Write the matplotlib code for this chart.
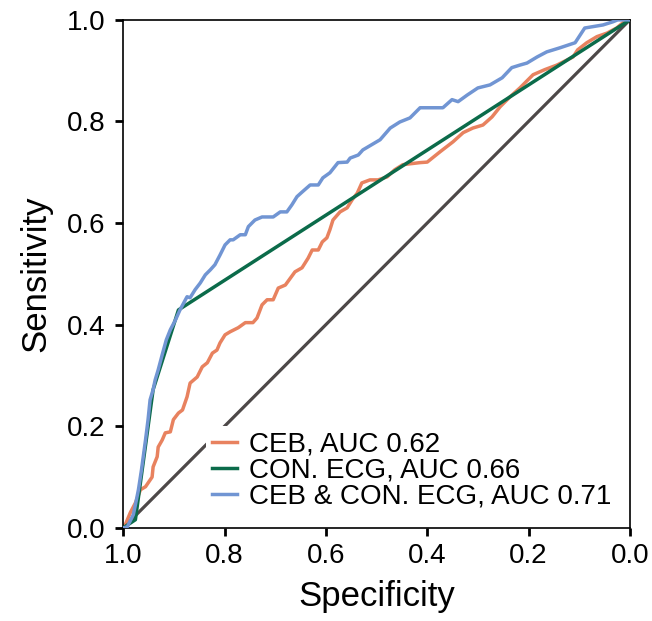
import matplotlib
matplotlib.use("Agg")
import matplotlib.pyplot as plt

plt.rcParams['font.family'] = ['Liberation Sans', 'DejaVu Sans']

# ROC points (specificity, sensitivity)
ceb_spec = [1.0, 0.996, 0.986, 0.976, 0.966, 0.956, 0.943, 0.941, 0.933, 0.931, 0.923, 0.917,
            0.907, 0.901, 0.891, 0.883, 0.874, 0.868, 0.854, 0.844, 0.834, 0.824, 0.815, 0.809,
            0.799, 0.789, 0.773, 0.759, 0.744, 0.736, 0.726, 0.716, 0.704, 0.694, 0.680, 0.661,
            0.647, 0.635, 0.627, 0.615, 0.607, 0.598, 0.592, 0.586, 0.572, 0.558, 0.548, 0.538,
            0.529, 0.513, 0.497, 0.479, 0.464, 0.448, 0.414, 0.400, 0.375, 0.349, 0.329, 0.310,
            0.290, 0.272, 0.256, 0.237, 0.217, 0.191, 0.168, 0.144, 0.124, 0.112, 0.103, 0.085,
            0.065, 0.045, 0.026, 0.014, 0.0]
ceb_sens = [0.0, 0.006, 0.030, 0.049, 0.075, 0.081, 0.100, 0.120, 0.140, 0.159, 0.173, 0.187,
            0.189, 0.213, 0.226, 0.232, 0.258, 0.285, 0.297, 0.317, 0.325, 0.344, 0.350, 0.364,
            0.380, 0.386, 0.394, 0.404, 0.404, 0.413, 0.439, 0.449, 0.449, 0.472, 0.478, 0.504,
            0.512, 0.531, 0.547, 0.547, 0.563, 0.571, 0.587, 0.606, 0.622, 0.630, 0.646, 0.659,
            0.679, 0.685, 0.685, 0.691, 0.705, 0.715, 0.719, 0.720, 0.740, 0.760, 0.778, 0.787,
            0.793, 0.809, 0.829, 0.848, 0.866, 0.892, 0.902, 0.911, 0.921, 0.927, 0.941, 0.955,
            0.967, 0.974, 0.984, 0.994, 1.0]

ecg_spec = [1.0, 0.976, 0.941, 0.891, 0.0]
ecg_sens = [0.0, 0.016, 0.272, 0.429, 1.0]

both_spec = [1.0, 0.992, 0.980, 0.974, 0.970, 0.964, 0.956, 0.951, 0.947, 0.941, 0.937, 0.931,
             0.923, 0.915, 0.907, 0.897, 0.888, 0.874, 0.868, 0.858, 0.848, 0.838, 0.828, 0.819,
             0.809, 0.799, 0.789, 0.783, 0.769, 0.759, 0.753, 0.740, 0.726, 0.704, 0.690, 0.677,
             0.667, 0.657, 0.647, 0.631, 0.615, 0.606, 0.592, 0.576, 0.558, 0.552, 0.536, 0.527,
             0.493, 0.473, 0.454, 0.434, 0.414, 0.369, 0.351, 0.339, 0.321, 0.300, 0.276, 0.252,
             0.233, 0.217, 0.203, 0.183, 0.164, 0.138, 0.108, 0.089, 0.053, 0.034, 0.024, 0.0]
both_sens = [0.0, 0.002, 0.026, 0.055, 0.075, 0.114, 0.173, 0.213, 0.252, 0.272, 0.291, 0.311,
             0.341, 0.370, 0.390, 0.409, 0.429, 0.455, 0.453, 0.469, 0.482, 0.498, 0.508, 0.518,
             0.537, 0.557, 0.567, 0.567, 0.577, 0.577, 0.593, 0.606, 0.612, 0.612, 0.622, 0.622,
             0.636, 0.652, 0.661, 0.675, 0.675, 0.689, 0.699, 0.719, 0.720, 0.728, 0.734, 0.744,
             0.764, 0.787, 0.799, 0.807, 0.827, 0.827, 0.843, 0.839, 0.852, 0.866, 0.872, 0.886,
             0.906, 0.911, 0.915, 0.927, 0.937, 0.945, 0.955, 0.984, 0.990, 0.996, 1.0, 1.0]

labels = ['CEB, AUC 0.62', 'CON. ECG, AUC 0.66', 'CEB & CON. ECG, AUC 0.71']
ticks = [0.0, 0.2, 0.4, 0.6, 0.8, 1.0]

fig = plt.figure(figsize=(6.52, 6.21), dpi=100)
ax = fig.add_axes([0.189, 0.150, 0.777, 0.818])

ax.plot([1, 0], [0, 1], color='#4d4848', lw=2.3, zorder=1)
ax.plot(ceb_spec, ceb_sens, color='#e8825f', lw=2.5, label=labels[0], zorder=2)
ax.plot(ecg_spec, ecg_sens, color='#0b6b4a', lw=2.5, label=labels[1], zorder=3)
ax.plot(both_spec, both_sens, color='#7195d3', lw=2.5, label=labels[2], zorder=4)

ax.set_xlim(1.0, 0.0)
ax.set_ylim(0.0, 1.0)
ax.set_xticks(ticks)
ax.set_yticks(ticks)
ax.set_xticklabels(['%.1f' % t for t in ticks])
ax.set_yticklabels(['%.1f' % t for t in ticks])
ax.tick_params(axis='both', labelsize=20, length=6, width=2)
ax.tick_params(axis='y', pad=7)
ax.tick_params(axis='x', pad=5)
for s in ax.spines.values():
    s.set_linewidth(1.2)

ax.set_xlabel('Specificity', fontsize=25, labelpad=8)
ax.set_ylabel('Sensitivity', fontsize=25, labelpad=10)

leg = ax.legend(loc='lower right', fontsize=20, frameon=True, facecolor='white',
                edgecolor='none', framealpha=1, fancybox=False, handlelength=0.9,
                handletextpad=0.45, labelspacing=0.0, borderaxespad=0.45, borderpad=0.2)

fig.savefig('out.png', dpi=100)
